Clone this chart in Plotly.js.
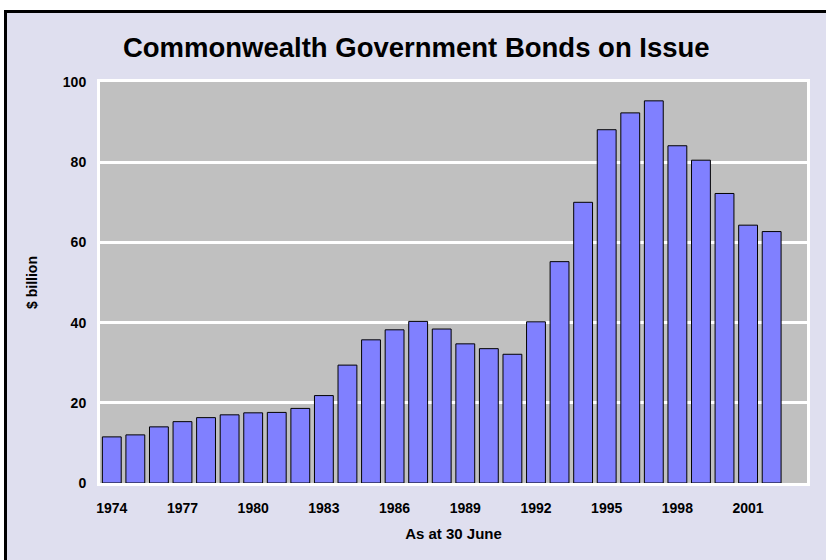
<!DOCTYPE html>
<html>
<head>
<meta charset="utf-8">
<script src="https://cdn.plot.ly/plotly-3.0.1.min.js"></script>
<style>
  html, body { margin: 0; padding: 0; background: #ffffff; overflow: hidden; }
  #chart { position: absolute; left: 0; top: 0; width: 826px; height: 560px; }
</style>
</head>
<body>
<div id="chart"></div>
<script>
const years = [1974, 1975, 1976, 1977, 1978, 1979, 1980, 1981, 1982, 1983,
               1984, 1985, 1986, 1987, 1988, 1989, 1990, 1991, 1992, 1993,
               1994, 1995, 1996, 1997, 1998, 1999, 2000, 2001, 2002];
const bondsOnIssue = [11.5, 12.0, 14.0, 15.3, 16.3, 17.0, 17.5, 17.6, 18.6, 21.8,
                      29.4, 35.7, 38.2, 40.3, 38.4, 34.7, 33.5, 32.1, 40.2, 55.2,
                      70.0, 88.1, 92.3, 95.3, 84.1, 80.5, 72.2, 64.3, 62.7];
const xTickYears = [1974, 1977, 1980, 1983, 1986, 1989, 1992, 1995, 1998, 2001];
const xTickLabels = ["1974", "1977", "1980", "1983", "1986", "1989", "1992", "1995", "1998", "2001"];
const yTicks = [0, 20, 40, 60, 80, 100];

const font = "Liberation Sans, Arial, sans-serif";

// page geometry (pixels) -> paper coordinates for the outer frame
const W = 826, H = 560, ML = 100, MR = 19, MT = 82, MB = 77;
const PW = W - ML - MR, PH = H - MT - MB;
const px = v => (v - ML) / PW;
const py = v => (H - MB - v) / PH;

const trace = {
  type: "bar",
  x: years,
  y: bondsOnIssue,
  width: 0.8,
  marker: { color: "#8080ff", line: { color: "#000000", width: 1 } },
  hoverinfo: "x+y"
};

const layout = {
  width: W,
  height: H,
  margin: { l: ML, r: MR, t: MT, b: MB },
  paper_bgcolor: "#dfdfef",
  plot_bgcolor: "#c0c0c0",
  showlegend: false,
  title: {
    text: "Commonwealth Government Bonds on Issue",
    font: { family: font, size: 27.5, color: "#000", weight: "bold" },
    xref: "container", x: 0.504, xanchor: "center",
    yref: "container", y: 1 - 47 / H, yanchor: "middle"
  },
  xaxis: {
    range: [1973.5, 2003.5],
    tickmode: "array",
    tickvals: xTickYears,
    ticktext: xTickLabels,
    ticks: "",
    showgrid: false,
    zeroline: false,
    showline: true, linecolor: "#ffffff", linewidth: 3, mirror: true,
    tickfont: { family: font, size: 14, color: "#000", weight: "bold" },
    ticklabelstandoff: 10,
    title: { text: "As at 30 June", font: { family: font, size: 15, color: "#000", weight: "bold" }, standoff: 14 }
  },
  yaxis: {
    range: [0, 100],
    tickmode: "array",
    tickvals: yTicks,
    ticks: "",
    showgrid: true, gridcolor: "#ffffff", gridwidth: 3,
    zeroline: false,
    showline: true, linecolor: "#ffffff", linewidth: 3, mirror: true,
    tickfont: { family: font, size: 14, color: "#000", weight: "bold" },
    ticklabelstandoff: 8,
    title: { text: "$ billion", font: { family: font, size: 14, color: "#000", weight: "bold" }, standoff: 22 }
  },
  bargap: 0.2,
  shapes: [
    // white margin outside the frame (left and top)
    { type: "rect", xref: "paper", yref: "paper", layer: "above",
      x0: px(-5), x1: px(4), y0: py(H + 5), y1: py(-5), fillcolor: "#ffffff", line: { width: 0 } },
    { type: "rect", xref: "paper", yref: "paper", layer: "above",
      x0: px(-5), x1: px(W + 5), y0: py(10), y1: py(-5), fillcolor: "#ffffff", line: { width: 0 } },
    // black frame edges
    { type: "rect", xref: "paper", yref: "paper", layer: "above",
      x0: px(4), x1: px(7), y0: py(H + 5), y1: py(10), fillcolor: "#000000", line: { width: 0 } },
    { type: "rect", xref: "paper", yref: "paper", layer: "above",
      x0: px(4), x1: px(W + 5), y0: py(13), y1: py(10), fillcolor: "#000000", line: { width: 0 } }
  ]
};

Plotly.newPlot("chart", [trace], layout, { displayModeBar: false, staticPlot: true });
</script>
</body>
</html>
